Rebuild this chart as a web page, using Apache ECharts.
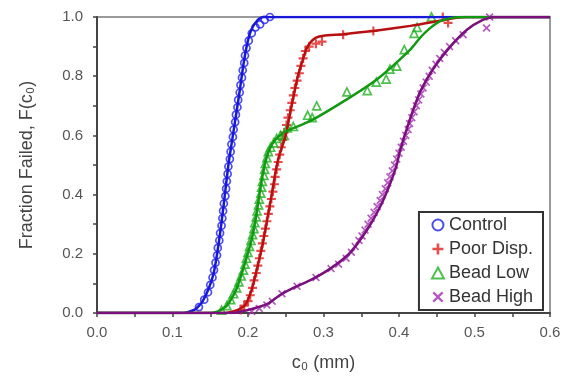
<!DOCTYPE html>
<html>
<head>
  <meta charset="UTF-8">
  <title>Fraction failed</title>
  <style>
    html, body { margin: 0; padding: 0; background: #fff; }
    #chart { width: 577px; height: 377px; }
  </style>
</head>
<body>
  <div id="chart"></div>
  <script src="https://cdn.jsdelivr.net/npm/echarts@6/dist/echarts.min.js"></script>
  <script>
    // measured points [c0 (mm), F]
    var controlPts = [[0.135,0.02],[0.142,0.045],[0.147,0.07],[0.150,0.095],[0.153,0.12],[0.155,0.145],[0.157,0.17],[0.159,0.195],[0.160,0.22],[0.162,0.245],[0.163,0.27],[0.165,0.295],[0.166,0.32],[0.167,0.345],[0.168,0.37],[0.170,0.395],[0.171,0.42],[0.172,0.445],[0.173,0.47],[0.174,0.495],[0.176,0.52],[0.177,0.545],[0.178,0.57],[0.180,0.595],[0.181,0.62],[0.183,0.645],[0.184,0.67],[0.186,0.695],[0.187,0.72],[0.189,0.745],[0.190,0.77],[0.192,0.795],[0.193,0.82],[0.195,0.845],[0.196,0.87],[0.198,0.895],[0.201,0.92],[0.205,0.945],[0.210,0.965],[0.216,0.975],[0.222,0.99],[0.229,1.0]];
    var poorPts = [[0.19,0.01],[0.195,0.025],[0.2,0.04],[0.203,0.06],[0.206,0.085],[0.208,0.11],[0.211,0.135],[0.213,0.16],[0.215,0.185],[0.217,0.21],[0.219,0.235],[0.221,0.26],[0.223,0.285],[0.225,0.31],[0.227,0.335],[0.229,0.36],[0.231,0.385],[0.233,0.41],[0.235,0.435],[0.236,0.46],[0.238,0.485],[0.240,0.51],[0.242,0.535],[0.244,0.56],[0.246,0.585],[0.248,0.61],[0.251,0.635],[0.253,0.66],[0.256,0.685],[0.258,0.71],[0.260,0.735],[0.262,0.76],[0.265,0.785],[0.268,0.81],[0.270,0.835],[0.273,0.86],[0.276,0.885],[0.281,0.9],[0.290,0.91],[0.298,0.917],[0.326,0.94],[0.366,0.953],[0.458,1.0],[0.465,0.98]];
    var lowPts = [[0.165,0.01],[0.172,0.025],[0.177,0.045],[0.181,0.065],[0.185,0.085],[0.188,0.105],[0.191,0.125],[0.194,0.145],[0.196,0.165],[0.198,0.185],[0.200,0.205],[0.202,0.225],[0.204,0.245],[0.206,0.265],[0.208,0.285],[0.209,0.305],[0.211,0.325],[0.212,0.345],[0.214,0.365],[0.215,0.385],[0.217,0.405],[0.218,0.425],[0.219,0.445],[0.221,0.465],[0.222,0.485],[0.223,0.505],[0.225,0.525],[0.227,0.545],[0.230,0.56],[0.234,0.575],[0.238,0.59],[0.243,0.6],[0.248,0.6],[0.252,0.625],[0.26,0.63],[0.279,0.668],[0.285,0.66],[0.291,0.70],[0.331,0.747],[0.358,0.751],[0.37,0.78],[0.383,0.79],[0.388,0.824],[0.397,0.834],[0.407,0.89],[0.420,0.945],[0.424,0.965],[0.443,1.0]];
    var highPts = [[0.205,0.005],[0.215,0.015],[0.225,0.027],[0.232,0.04],[0.245,0.065],[0.265,0.09],[0.29,0.12],[0.31,0.15],[0.32,0.165],[0.33,0.185],[0.337,0.205],[0.342,0.225],[0.347,0.245],[0.351,0.26],[0.355,0.28],[0.359,0.3],[0.363,0.32],[0.367,0.34],[0.371,0.36],[0.375,0.38],[0.378,0.4],[0.382,0.42],[0.385,0.44],[0.388,0.46],[0.391,0.48],[0.394,0.5],[0.397,0.52],[0.400,0.54],[0.403,0.56],[0.406,0.58],[0.409,0.6],[0.412,0.62],[0.414,0.64],[0.417,0.66],[0.420,0.68],[0.423,0.7],[0.426,0.72],[0.429,0.74],[0.432,0.76],[0.436,0.78],[0.440,0.80],[0.444,0.82],[0.449,0.84],[0.454,0.86],[0.460,0.88],[0.467,0.9],[0.475,0.92],[0.485,0.94],[0.516,0.963],[0.52,1.0]];

    // fitted curves
    var controlFit = [[0,0],[0.11,0],[0.12,0.003],[0.13,0.012],[0.136,0.027],[0.14,0.04],[0.148,0.083],[0.155,0.14],[0.162,0.25],[0.168,0.37],[0.174,0.5],[0.18,0.6],[0.189,0.75],[0.194,0.84],[0.199,0.91],[0.205,0.96],[0.213,0.99],[0.22,1.0],[0.6,1.0]];
    var poorFit = [[0,0],[0.17,0],[0.18,0.005],[0.19,0.015],[0.197,0.03],[0.205,0.08],[0.212,0.15],[0.219,0.226],[0.225,0.31],[0.23,0.38],[0.236,0.47],[0.24,0.52],[0.245,0.56],[0.25,0.6],[0.257,0.69],[0.266,0.80],[0.272,0.85],[0.277,0.89],[0.283,0.915],[0.29,0.93],[0.3,0.937],[0.326,0.942],[0.366,0.953],[0.415,0.97],[0.445,0.983],[0.47,0.995],[0.49,1.0],[0.6,1.0]];
    var lowFit = [[0,0],[0.15,0],[0.16,0.005],[0.17,0.02],[0.175,0.035],[0.185,0.083],[0.195,0.16],[0.205,0.25],[0.211,0.33],[0.216,0.415],[0.222,0.5],[0.228,0.55],[0.236,0.585],[0.245,0.605],[0.253,0.617],[0.282,0.648],[0.326,0.714],[0.371,0.79],[0.415,0.89],[0.428,0.93],[0.44,0.96],[0.454,0.985],[0.47,0.997],[0.49,1.0],[0.6,1.0]];
    var highFit = [[0,0],[0.18,0],[0.19,0.005],[0.2,0.01],[0.225,0.03],[0.242,0.06],[0.26,0.085],[0.282,0.11],[0.309,0.15],[0.335,0.203],[0.358,0.282],[0.375,0.359],[0.388,0.435],[0.397,0.5],[0.401,0.545],[0.415,0.658],[0.428,0.747],[0.445,0.824],[0.468,0.90],[0.49,0.957],[0.511,0.99],[0.525,1.0],[0.6,1.0]];

    var plusPath = 'path://M3.8,0h2.4v10h-2.4z M0,3.8h10v2.4h-10z';
    var crossPath = 'path://M1.5,0L5,3.5L8.5,0L10,1.5L6.5,5L10,8.5L8.5,10L5,6.5L1.5,10L0,8.5L3.5,5L0,1.5Z';

    var myChart = echarts.init(document.getElementById('chart'));

    function fitLine(name, data, color) {
      return {
        name: name,
        type: 'line',
        data: data,
        showSymbol: false,
        smooth: 0.2,
        z: 4,
        lineStyle: { color: color, width: 2.5 }
      };
    }

    function pts(name, data, symbol, color, hollow, size) {
      return {
        name: name,
        type: 'scatter',
        data: data,
        symbol: symbol,
        symbolSize: size,
        z: 3,
        itemStyle: hollow
          ? { color: 'rgba(0,0,0,0)', borderColor: color, borderWidth: 1.7 }
          : { color: color }
      };
    }

    var option = {
      backgroundColor: '#fff',
      animation: false,
      grid: {
        left: 97, right: 27, top: 17, bottom: 59,
        show: true, borderColor: '#999', borderWidth: 2
      },
      legend: {
        orient: 'vertical',
        right: 34,
        bottom: 67,
        data: ['Control', 'Poor Disp.', 'Bead Low', 'Bead High'],
        backgroundColor: '#fff',
        borderColor: '#333',
        borderWidth: 2,
        borderRadius: 0,
        padding: [4, 10, 4, 12],
        itemGap: 6,
        itemWidth: 12,
        itemHeight: 11,
        textStyle: { color: '#333', fontSize: 18, fontFamily: 'Liberation Sans' }
      },
      xAxis: {
        type: 'value',
        min: 0, max: 0.6, interval: 0.1,
        name: 'c\u2080 (mm)',
        nameLocation: 'middle',
        nameGap: 41,
        nameTextStyle: { color: '#444', fontSize: 18, fontFamily: 'Liberation Sans' },
        axisLine: { lineStyle: { color: '#444', width: 2 } },
        axisTick: { length: 4, lineStyle: { color: '#444', width: 1.5 } },
        minorTick: { show: true, splitNumber: 2, length: 4, lineStyle: { color: '#444', width: 1.5 } },
        splitLine: { show: false },
        axisLabel: {
          color: '#555', fontSize: 15, margin: 12, fontFamily: 'Liberation Sans',
          formatter: function (v) { return v.toFixed(1); }
        }
      },
      yAxis: {
        type: 'value',
        min: 0, max: 1, interval: 0.2,
        name: 'Fraction Failed, F(c\u2080)',
        nameLocation: 'middle',
        nameGap: 61,
        nameTextStyle: { color: '#444', fontSize: 18, fontFamily: 'Liberation Sans' },
        axisLine: { lineStyle: { color: '#444', width: 2 } },
        axisTick: { length: 4, lineStyle: { color: '#444', width: 1.5 } },
        minorTick: { show: true, splitNumber: 2, length: 4, lineStyle: { color: '#444', width: 1.5 } },
        splitLine: { show: false },
        axisLabel: {
          color: '#555', fontSize: 15, margin: 14, fontFamily: 'Liberation Sans',
          formatter: function (v) { return v.toFixed(1); }
        }
      },
      series: [
        pts('Control', controlPts, 'circle', '#2020e8', true, 7),
        pts('Poor Disp.', poorPts, plusPath, '#e02020', false, 9),
        pts('Bead Low', lowPts, 'triangle', '#20b020', true, 8),
        pts('Bead High', highPts, crossPath, '#a030b0', false, 8),
        fitLine('Control fit', controlFit, '#1818d8'),
        fitLine('Poor Disp. fit', poorFit, '#b81010'),
        fitLine('Bead Low fit', lowFit, '#119911'),
        fitLine('Bead High fit', highFit, '#7a107e')
      ]
    };
    myChart.setOption(option);
  </script>
</body>
</html>
